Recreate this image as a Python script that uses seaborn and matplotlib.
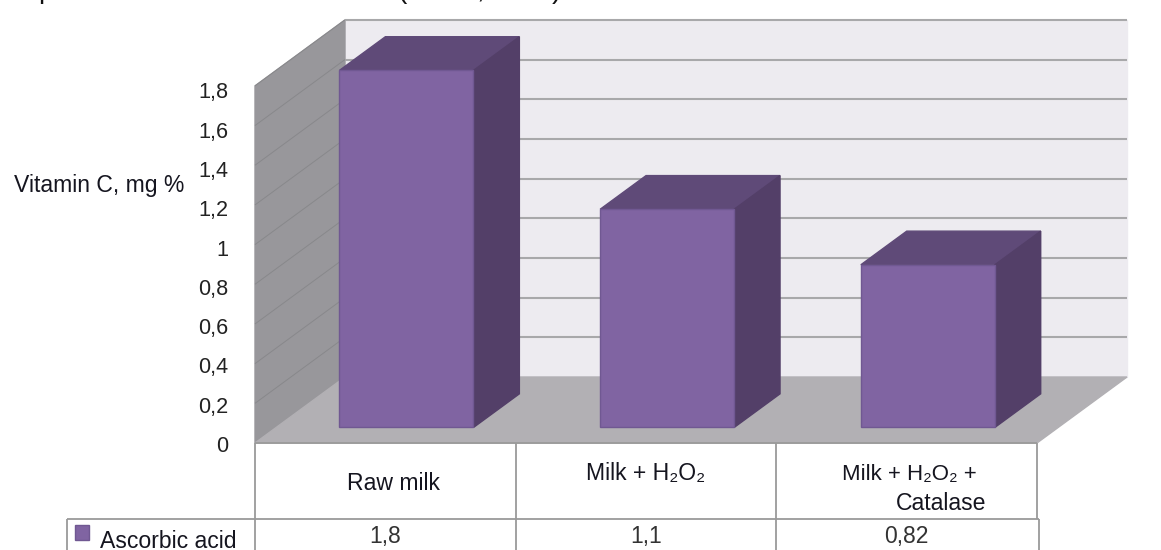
import numpy as np
import pandas as pd
import seaborn as sns
import matplotlib.pyplot as plt
from matplotlib.patches import Rectangle
from matplotlib.transforms import ScaledTranslation

# values
categories = ['Raw milk', 'Milk + H\u2082O\u2082', 'Milk + H\u2082O\u2082 + Catalase']
ascorbic = [1.8, 1.1, 0.82]
value_labels = ['1,8', '1,1', '0,82']
y_ticks = [0, 0.2, 0.4, 0.6, 0.8, 1.0, 1.2, 1.4, 1.6, 1.8]
y_tick_labels = ['0', '0,2', '0,4', '0,6', '0,8', '1', '1,2', '1,4', '1,6', '1,8']
series_name = 'Ascorbic acid'
# only the descenders of the cropped title are visible in the source
title_bits = ['p', '(', ',', ')']
title_bits_px = [38, 397, 476, 552]

# pixel scale of the front plane and of the fake 3d depth
SX = 260.67
SY = 198.4
DX = 90
DY = 66
D0, D1 = 0.235, 0.745
BAR_W = 0.514

C_FRONT = '#8064A2'
C_TOP = '#5F4A78'
C_SIDE = '#533F68'
C_LINE = '#A8A8AA'
C_TEXT = '#15151F'
FS = 16.6

sns.set_theme(style='white')
plt.rcParams['font.family'] = ['Liberation Sans', 'DejaVu Sans']

W, H = 1161, 550
fig = plt.figure(figsize=(W / 100, H / 100), dpi=100, facecolor='white')
ax = fig.add_axes([255 / W, (H - 443) / H, 782 / W, 1.8 * SY / H])

df = pd.DataFrame({'treatment': categories, 'ascorbic': ascorbic})
sns.barplot(data=df, x='treatment', y='ascorbic', color=C_FRONT, saturation=1,
            width=BAR_W, edgecolor='#705892', linewidth=1, ax=ax, zorder=5)
ax.set_xlim(-0.5, 2.5)
ax.set_ylim(0, 1.8)
ax.patch.set_alpha(0)
for s in ax.spines.values():
    s.set_visible(False)


def pr(x, y, d=0.0):
    # front plane data coords -> same position pushed back by depth d
    return x + d * DX / SX, y + d * DY / SY


def py(pixel):
    # image row -> y data value
    return (443 - pixel) / SY


def px(pixel):
    # image column -> x data value
    return -0.5 + (pixel - 255) / SX


def poly(points, color, z, **kw):
    xs, ys = zip(*points)
    ax.fill(xs, ys, color=color, zorder=z, clip_on=False, **kw)


def line(x, y, z=2, color=C_LINE, lw=1.3):
    ax.plot(x, y, color=color, lw=lw, zorder=z, clip_on=False, solid_capstyle='butt')


x0, x1 = -0.5, 2.5
top = y_ticks[-1]
poly([pr(x0, 0, 1), pr(x1, 0, 1), pr(x1, top, 1), pr(x0, top, 1)], '#EDEBF0', 0)
poly([pr(x0, 0), pr(x0, 0, 1), pr(x0, top, 1), pr(x0, top)], '#98979B', 1)
poly([pr(x0, 0), pr(x1, 0), pr(x1, 0, 1), pr(x0, 0, 1)], '#B2B0B4', 1)

for v in y_ticks[1:]:
    a, b = pr(x0, v, 1)
    c, d = pr(x1, v, 1)
    line([a, c], [b, d], lw=1.5)
    e, f = pr(x0, v)
    line([e, a], [f, b], color='#88888B', lw=0.7)

# move the seaborn bars back into the room and add their top and side faces
for bar, val in zip(ax.patches, ascorbic):
    left, base = pr(bar.get_x(), 0, D0)
    bar.set_x(left)
    bar.set_y(base)
    bar.set_clip_on(False)
    right = left + BAR_W
    dd = D1 - D0
    poly([(left, base + val), (right, base + val), pr(right, base + val, dd),
          pr(left, base + val, dd)], C_TOP, 4)
    poly([(right, base), pr(right, base, dd), pr(right, base + val, dd),
          (right, base + val)], C_SIDE, 4)

ax.set_xticks([])
ax.set_yticks(y_ticks)
ax.set_yticklabels(y_tick_labels, fontsize=15.6, color='#222222')
ax.tick_params(axis='y', length=0, pad=19)
ax.set_ylabel('')
ax.set_xlabel('')
# y axis labels drift low in the original, more so towards the top
for t, v in zip(ax.get_yticklabels(), y_ticks):
    low = ScaledTranslation(0, -(1 + 3.5 * v / 1.8) / 100, fig.dpi_scale_trans)
    t.set_transform(t.get_transform() + low)

ax.text(px(14), py(186), 'Vitamin C, mg %', fontsize=FS, color=C_TEXT,
        ha='left', va='center', clip_on=False)

for bit, pos in zip(title_bits, title_bits_px):
    ax.text(px(pos), py(-2), bit, fontsize=20, color='#111111', ha='left', va='baseline',
            clip_on=False)

# data table under the floor
bottom = py(550)
for i in range(4):
    xv = x0 + i
    line([xv, xv], [0, py(519)], z=3, color='#9A9A9A')
    xl = xv + (2 / SX if i == 3 else 0)
    line([xl, xl], [py(519), bottom], z=3, color='#9A9A9A')
line([px(67), x1 + 2 / SX], [py(519), py(519)], z=3, color='#9A9A9A')
line([px(67), px(67)], [py(519), bottom], z=3, color='#9A9A9A')
line([x0, x1], [0, 0], z=3, color='#9A9A9A')

ax.text(0.03, py(484), categories[0], fontsize=FS, ha='center', va='center', color=C_TEXT)
ax.text(1, py(473), categories[1], fontsize=FS, ha='center', va='center', color=C_TEXT)
ax.text(px(909), py(475), 'Milk + H\u2082O\u2082 +', fontsize=16, ha='center', va='center', color=C_TEXT)
ax.text(px(941), py(503), 'Catalase', fontsize=FS, ha='center', va='center', color=C_TEXT)
for i, lab in enumerate(value_labels):
    ax.text(i, py(536), lab, fontsize=16.5, ha='center', va='center', color='#333333')

ax.add_patch(Rectangle((px(75), py(540)), 14 / SX, 15 / SY, facecolor=C_FRONT,
                       edgecolor='#705892', lw=1, clip_on=False, zorder=6))
ax.text(px(100), py(541), series_name, fontsize=FS, ha='left', va='center', color=C_TEXT)

fig.savefig('out.png', dpi=100)
